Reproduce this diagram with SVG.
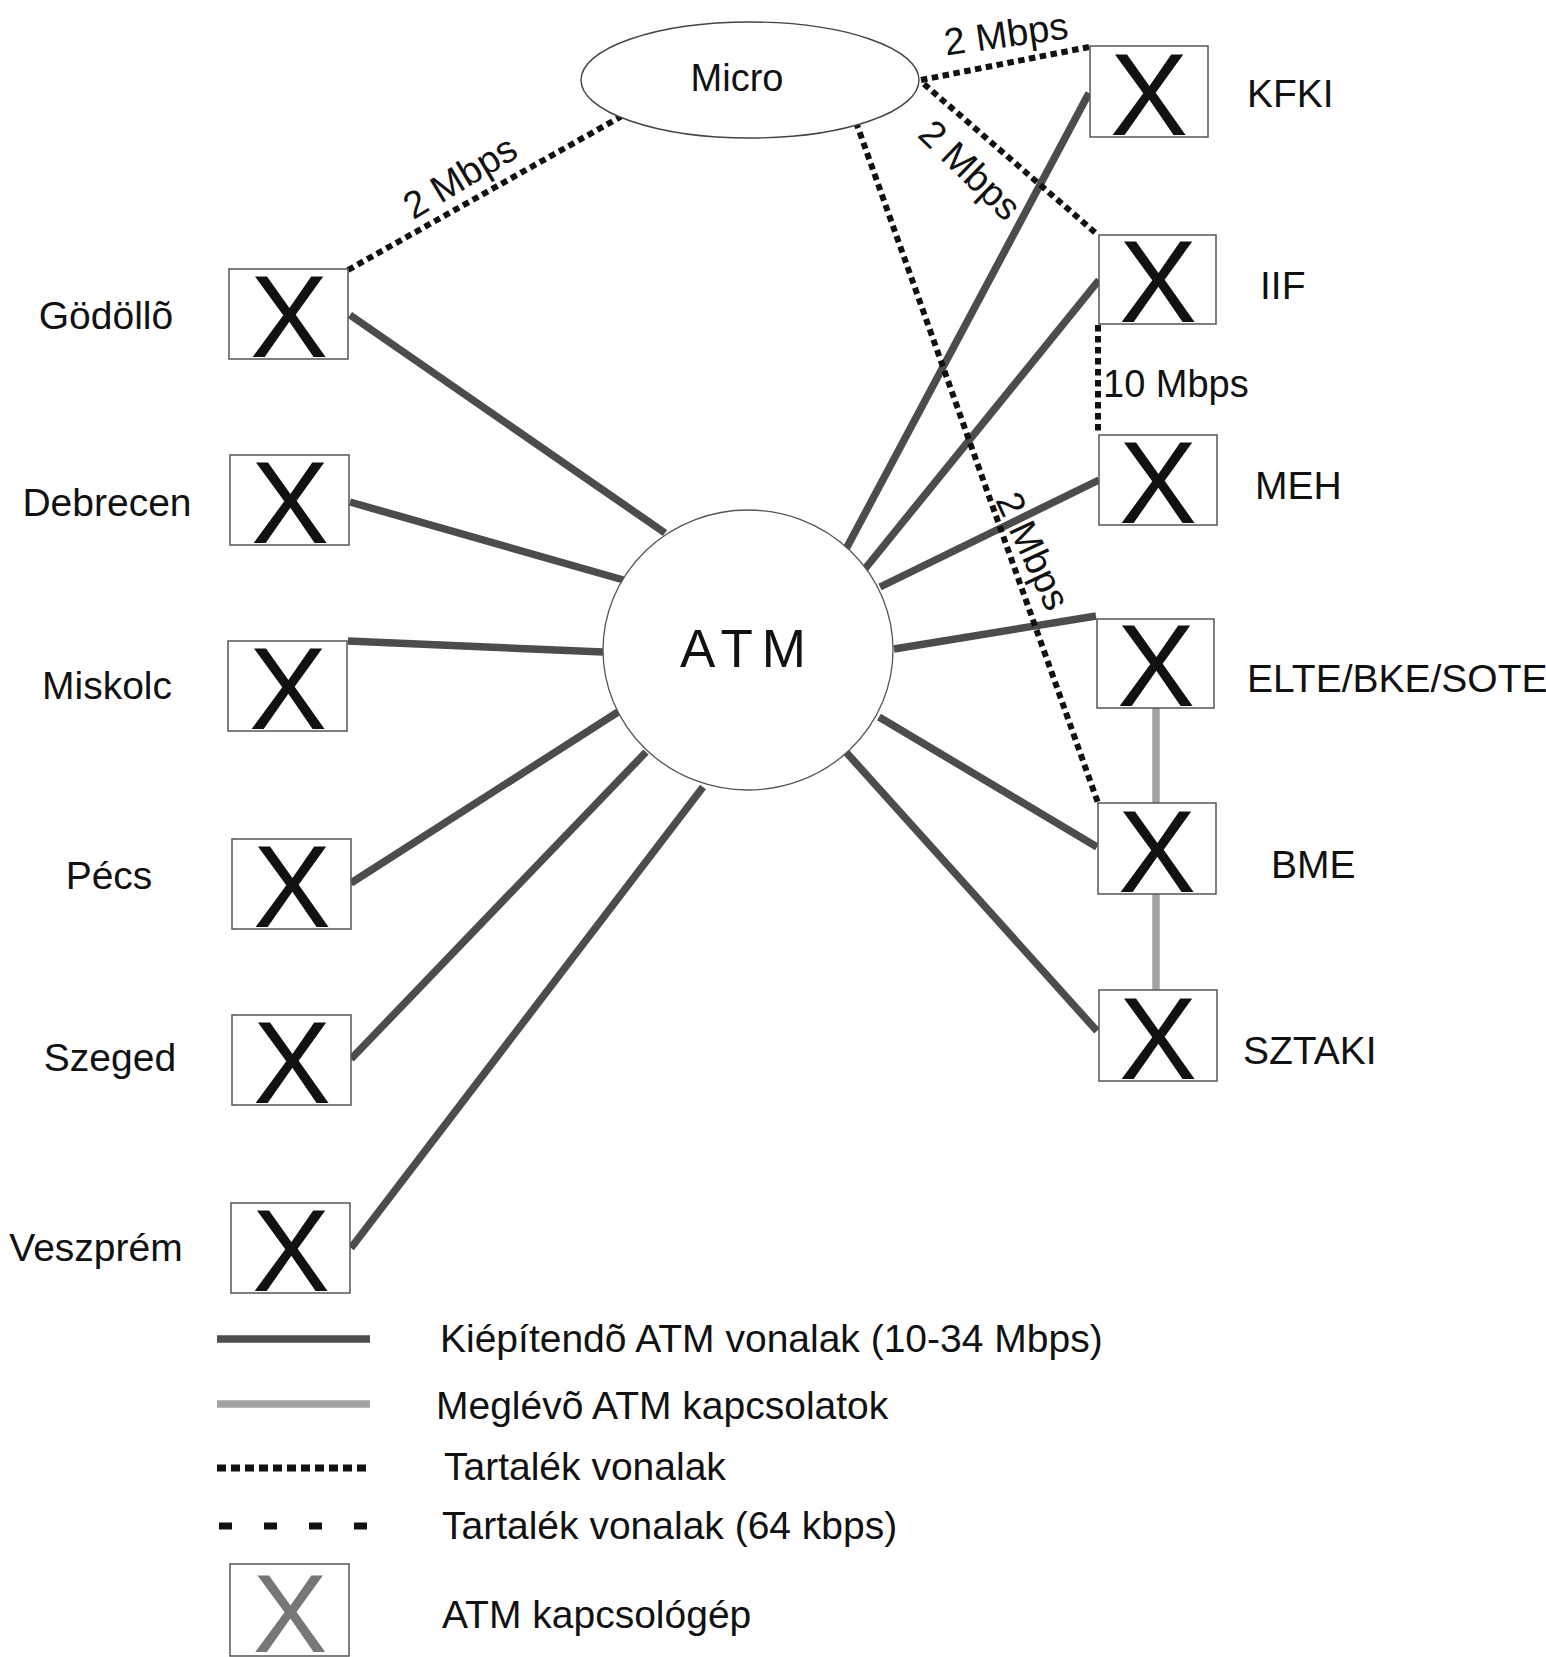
<svg xmlns="http://www.w3.org/2000/svg" width="1546" height="1657" viewBox="0 0 1546 1657">
<style>
.box{fill:#fff;stroke:#555;stroke-width:1.5}
.x{font-family:"Liberation Sans",Arial,sans-serif;font-size:117px;fill:#111;text-anchor:middle}
.lbl{font-family:"Liberation Sans",Arial,sans-serif;font-size:39px;fill:#111}
.mid{text-anchor:middle}
.sm{font-family:"Liberation Sans",Arial,sans-serif;font-size:38px;fill:#111}
.atm{stroke:#4c4c4c;stroke-width:7.5;fill:none}
.exist{stroke:#a3a3a3;stroke-width:7.5;fill:none}
.res{stroke:#111;stroke-width:6;stroke-dasharray:6.5 4.5;fill:none}
.res64{stroke:#111;stroke-width:7;stroke-dasharray:13 32;fill:none}
.cloud{fill:#fff;stroke:#444;stroke-width:1.4}
</style>
<rect x="0" y="0" width="1546" height="1657" fill="#fff"/>

<g id="connectors">
  <line class="atm" x1="350" y1="315" x2="665" y2="533"/>
  <line class="atm" x1="350" y1="502" x2="627" y2="581"/>
  <line class="atm" x1="348" y1="641" x2="603" y2="652"/>
  <line class="atm" x1="351" y1="883" x2="618" y2="712"/>
  <line class="atm" x1="351" y1="1059" x2="646" y2="752"/>
  <line class="atm" x1="351" y1="1248" x2="703" y2="787"/>
  <line class="atm" x1="1089" y1="93" x2="846" y2="549"/>
  <line class="atm" x1="1099" y1="280" x2="864" y2="570"/>
  <line class="atm" x1="1099" y1="480" x2="880" y2="587"/>
  <line class="atm" x1="1096" y1="616" x2="894" y2="649"/>
  <line class="atm" x1="1097" y1="847" x2="879" y2="717"/>
  <line class="atm" x1="1097" y1="1031" x2="845" y2="751"/>
  <line class="exist" x1="1156" y1="708" x2="1156" y2="803"/>
  <line class="exist" x1="1156" y1="894" x2="1156" y2="990"/>
  <line class="res" x1="348" y1="270" x2="622" y2="116"/>
  <line class="res" x1="921" y1="80" x2="1089" y2="47"/>
  <line class="res" x1="924" y1="84" x2="1098" y2="235"/>
  <line class="res" x1="856" y1="122" x2="1098" y2="803"/>
  <line class="res" x1="1098" y1="325" x2="1098" y2="434"/>
  <text class="sm mid" transform="translate(460,177) rotate(-31)" y="13">2 Mbps</text>
  <text class="sm mid" transform="translate(1006,34) rotate(-8)" y="13">2 Mbps</text>
  <text class="sm mid" transform="translate(970,170) rotate(44)" y="13">2 Mbps</text>
  <text class="sm mid" transform="translate(1033,551) rotate(65)" y="13">2 Mbps</text>
  <text class="sm" x="1103" y="397">10 Mbps</text>
</g>

<g id="micro">
  <ellipse class="cloud" cx="750" cy="80" rx="169" ry="58"/>
  <text class="sm mid" x="737" y="91">Micro</text>
</g>

<g id="atm">
  <ellipse fill="#fff" stroke="#555" stroke-width="1.3" cx="748" cy="650" rx="145" ry="140"/>
  <text x="747.5" y="667" font-family="'Liberation Sans',Arial,sans-serif" font-size="53" letter-spacing="9" text-anchor="middle" fill="#111">ATM</text>
</g>

<g id="godollo">
  <rect class="box" x="229" y="269" width="119" height="90"/>
  <text class="x" x="289" y="357">X</text>
  <text class="lbl mid" x="106" y="329">Gödöllõ</text>
</g>
<g id="debrecen">
  <rect class="box" x="230" y="455" width="119" height="90"/>
  <text class="x" x="290" y="543">X</text>
  <text class="lbl mid" x="107" y="516">Debrecen</text>
</g>
<g id="miskolc">
  <rect class="box" x="228" y="641" width="119" height="90"/>
  <text class="x" x="288" y="729">X</text>
  <text class="lbl mid" x="107" y="699">Miskolc</text>
</g>
<g id="pecs">
  <rect class="box" x="232" y="839" width="119" height="90"/>
  <text class="x" x="292" y="927">X</text>
  <text class="lbl mid" x="109" y="889">Pécs</text>
</g>
<g id="szeged">
  <rect class="box" x="232" y="1015" width="119" height="90"/>
  <text class="x" x="292" y="1103">X</text>
  <text class="lbl mid" x="110" y="1071">Szeged</text>
</g>
<g id="veszprem">
  <rect class="box" x="231" y="1203" width="119" height="90"/>
  <text class="x" x="291" y="1291">X</text>
  <text class="lbl mid" x="96" y="1261">Veszprém</text>
</g>

<g id="kfki">
  <rect class="box" x="1090" y="46" width="118" height="91"/>
  <text class="x" x="1149" y="135">X</text>
  <text class="lbl" x="1247" y="107">KFKI</text>
</g>
<g id="iif">
  <rect class="box" x="1099" y="235" width="117" height="89"/>
  <text class="x" x="1158" y="322">X</text>
  <text class="lbl" x="1260" y="299">IIF</text>
</g>
<g id="meh">
  <rect class="box" x="1099" y="435" width="118" height="90"/>
  <text class="x" x="1158" y="523">X</text>
  <text class="lbl" x="1255" y="499">MEH</text>
</g>
<g id="elte">
  <rect class="box" x="1097" y="619" width="117" height="89"/>
  <text class="x" x="1156" y="706">X</text>
  <text class="lbl" x="1247" y="692" font-size="35">ELTE/BKE/SOTE</text>
</g>
<g id="bme">
  <rect class="box" x="1098" y="803" width="118" height="91"/>
  <text class="x" x="1157" y="892">X</text>
  <text class="lbl" x="1271" y="878">BME</text>
</g>
<g id="sztaki">
  <rect class="box" x="1099" y="990" width="118" height="91"/>
  <text class="x" x="1158" y="1079">X</text>
  <text class="lbl" x="1243" y="1064">SZTAKI</text>
</g>

<g id="legend">
  <line class="atm" x1="217" y1="1339" x2="370" y2="1339"/>
  <text class="lbl" x="440" y="1352">Kiépítendõ ATM vonalak (10-34 Mbps)</text>
  <line class="exist" x1="217" y1="1404" x2="370" y2="1404"/>
  <text class="lbl" x="436" y="1419">Meglévõ ATM kapcsolatok</text>
  <line class="res" x1="217" y1="1468" x2="369" y2="1468" style="stroke-width:7;stroke-dasharray:9 5"/>
  <text class="lbl" x="444" y="1480">Tartalék vonalak</text>
  <line class="res64" x1="219" y1="1526" x2="368" y2="1526"/>
  <text class="lbl" x="442" y="1539">Tartalék vonalak (64 kbps)</text>
  <rect class="box" x="230" y="1564" width="119" height="92"/>
  <text class="x" x="290" y="1652" style="fill:#777;font-size:112px">X</text>
  <text class="lbl" x="442" y="1628">ATM kapcsológép</text>
</g>
</svg>
